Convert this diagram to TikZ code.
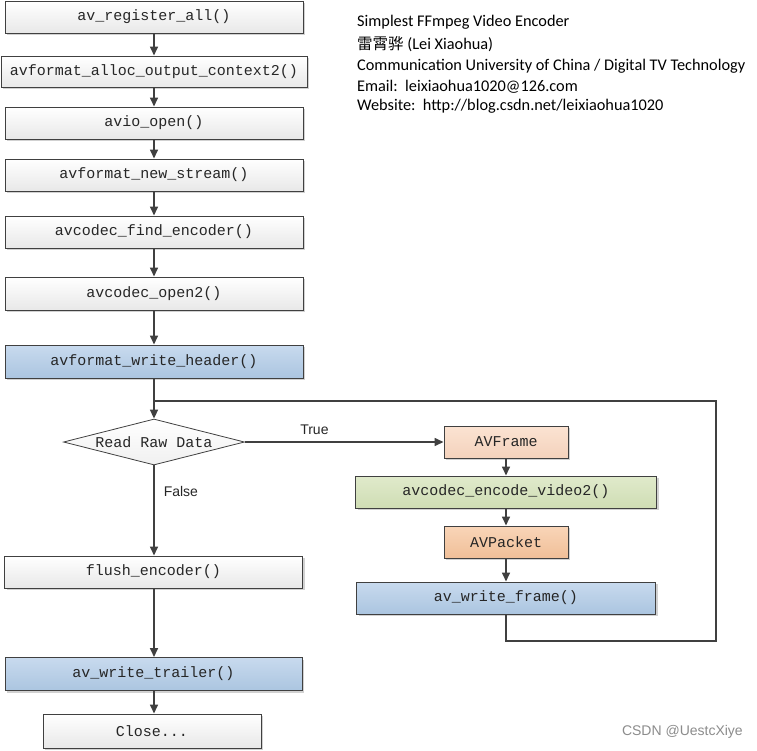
\documentclass[tikz,border=0pt]{standalone}
\usepackage{fontspec}
\setmonofont{Liberation Mono}
\newfontfamily\calfont{Carlito}
\newfontfamily\arialfont{Liberation Sans}
\newfontfamily\cjkfont{Noto Sans CJK SC}
\usetikzlibrary{arrows.meta,shapes.geometric,shadows}
\definecolor{edgec}{HTML}{404040}
\definecolor{bluetop}{HTML}{C8DAEE}
\definecolor{bluebot}{HTML}{ABC5E0}
\definecolor{peachtop}{HTML}{FBE3D2}
\definecolor{peachbot}{HTML}{F4D2BC}
\definecolor{greentop}{HTML}{E0EACB}
\definecolor{greenbot}{HTML}{CFDDB4}
\definecolor{orangetop}{HTML}{F9D5B8}
\definecolor{orangebot}{HTML}{F0BF98}
\tikzset{
  x=1pt,y=-1pt,
  fbox/.style={draw=edgec, line width=1pt, rectangle, inner sep=0pt,
    font=\ttfamily\fontsize{15}{15}\selectfont, text=black!85,
    drop shadow={shadow xshift=2pt, shadow yshift=-2pt, fill=black!18, opacity=1},
    top color=white, bottom color=black!9},
  bluebox/.style={fbox, top color=bluetop, bottom color=bluebot},
  peachbox/.style={fbox, top color=peachtop, bottom color=peachbot},
  greenbox/.style={fbox, top color=greentop, bottom color=greenbot},
  orangebox/.style={fbox, top color=orangetop, bottom color=orangebot},
  conn/.style={draw=edgec, line width=1.6pt, -{Triangle[width=8pt,length=9pt]}},
  plain/.style={draw=edgec, line width=1.6pt},
  info/.style={anchor=west, inner sep=0pt, font=\calfont\fontsize{16.3}{16.3}\selectfont},
  lbl/.style={inner sep=0pt, font=\arialfont\fontsize{14}{14}\selectfont, text=black!85}
}
\begin{document}
\begin{tikzpicture}
\useasboundingbox (0,0) rectangle (757,750);
\fill[white] (0,0) rectangle (757,750);

\node[fbox, minimum width=298pt, minimum height=32pt] (b1) at (154,17) {av\_register\_all()};
\node[fbox, minimum width=306pt, minimum height=31pt] (b2) at (154,71.5) {avformat\_alloc\_output\_context2()};
\node[fbox, minimum width=298pt, minimum height=32pt] (b3) at (154,123) {avio\_open()};
\node[fbox, minimum width=298pt, minimum height=32pt] (b4) at (154,175) {avformat\_new\_stream()};
\node[fbox, minimum width=298pt, minimum height=32pt] (b5) at (154,232) {avcodec\_find\_encoder()};
\node[fbox, minimum width=298pt, minimum height=33pt] (b6) at (154,293.5) {avcodec\_open2()};
\node[bluebox, minimum width=298pt, minimum height=33pt] (b7) at (154,361.5) {avformat\_write\_header()};

\node[draw=edgec, line width=0.8pt, diamond, aspect=3.93, minimum width=181pt, minimum height=46pt,
  inner sep=0pt, top color=white, bottom color=black!6,
  font=\ttfamily\fontsize{15}{15}\selectfont, text=black!85] (rd) at (154,442) {Read Raw Data};

\node[peachbox, minimum width=124pt, minimum height=32pt] (fr) at (506,442) {AVFrame};
\node[greenbox, minimum width=301pt, minimum height=32pt] (enc) at (506,492) {avcodec\_encode\_video2()};
\node[orangebox, minimum width=124pt, minimum height=32pt] (pk) at (506,542) {AVPacket};
\node[bluebox, minimum width=299pt, minimum height=32pt] (wf) at (506,598) {av\_write\_frame()};

\node[fbox, minimum width=298pt, minimum height=32pt] (fl) at (153.5,572) {flush\_encoder()};
\node[bluebox, minimum width=297pt, minimum height=33pt] (tr) at (153.5,674) {av\_write\_trailer()};
\node[fbox, minimum width=218pt, minimum height=34pt] (cl) at (152,731) {Close...};

% connectors
\draw[conn] (b1) -- (b2);
\draw[conn] (b2) -- (b3);
\draw[conn] (b3) -- (b4);
\draw[conn] (b4) -- (b5);
\draw[conn] (b5) -- (b6);
\draw[conn] (b6) -- (b7);
\draw[conn] (b7.south -| rd.north) -- (rd.north);
\draw[conn] (rd.east) -- node[lbl, above=7pt, pos=0.35] {True} (fr.west);
\draw[conn] (rd.south) -- node[lbl, right=9pt, pos=0.29] {False} (fl.north -| rd.south);
\draw[conn] (fr) -- (enc);
\draw[conn] (enc) -- (pk);
\draw[conn] (pk) -- (wf);
\draw[conn] (fl.south -| rd.south) -- (tr.north -| rd.south);
\draw[conn] (tr.south -| rd.south) -- (cl.north -| rd.south);

\coordinate (lp1) at (716,641);
\coordinate (lp2) at (716,401);
\draw[plain, line join=miter] (wf.south) |- (lp1) -- (lp2) -- (lp2 -| rd.north);

% info text
\node[info] (t1) at (357,22) {Simplest FFmpeg Video Encoder};
\node[info] (t2) at (357,44) {{\cjkfont\fontsize{15.5}{15.5}\selectfont 雷霄骅} (Lei Xiaohua)};
\node[info] (t3) at (357,66) {Communication University of China / Digital TV Technology};
\node[info] (t4) at (357,86.5) {Email:\ \ leixiaohua1020@126.com};
\node[info] (t5) at (357,106) {Website:\ \ http://blog.csdn.net/leixiaohua1020};

\node[anchor=east, inner sep=0pt, font=\arialfont\fontsize{14}{14}\selectfont, text=black!45] (wm) at (743,732) {CSDN @UestcXiye};
\end{tikzpicture}
\end{document}
